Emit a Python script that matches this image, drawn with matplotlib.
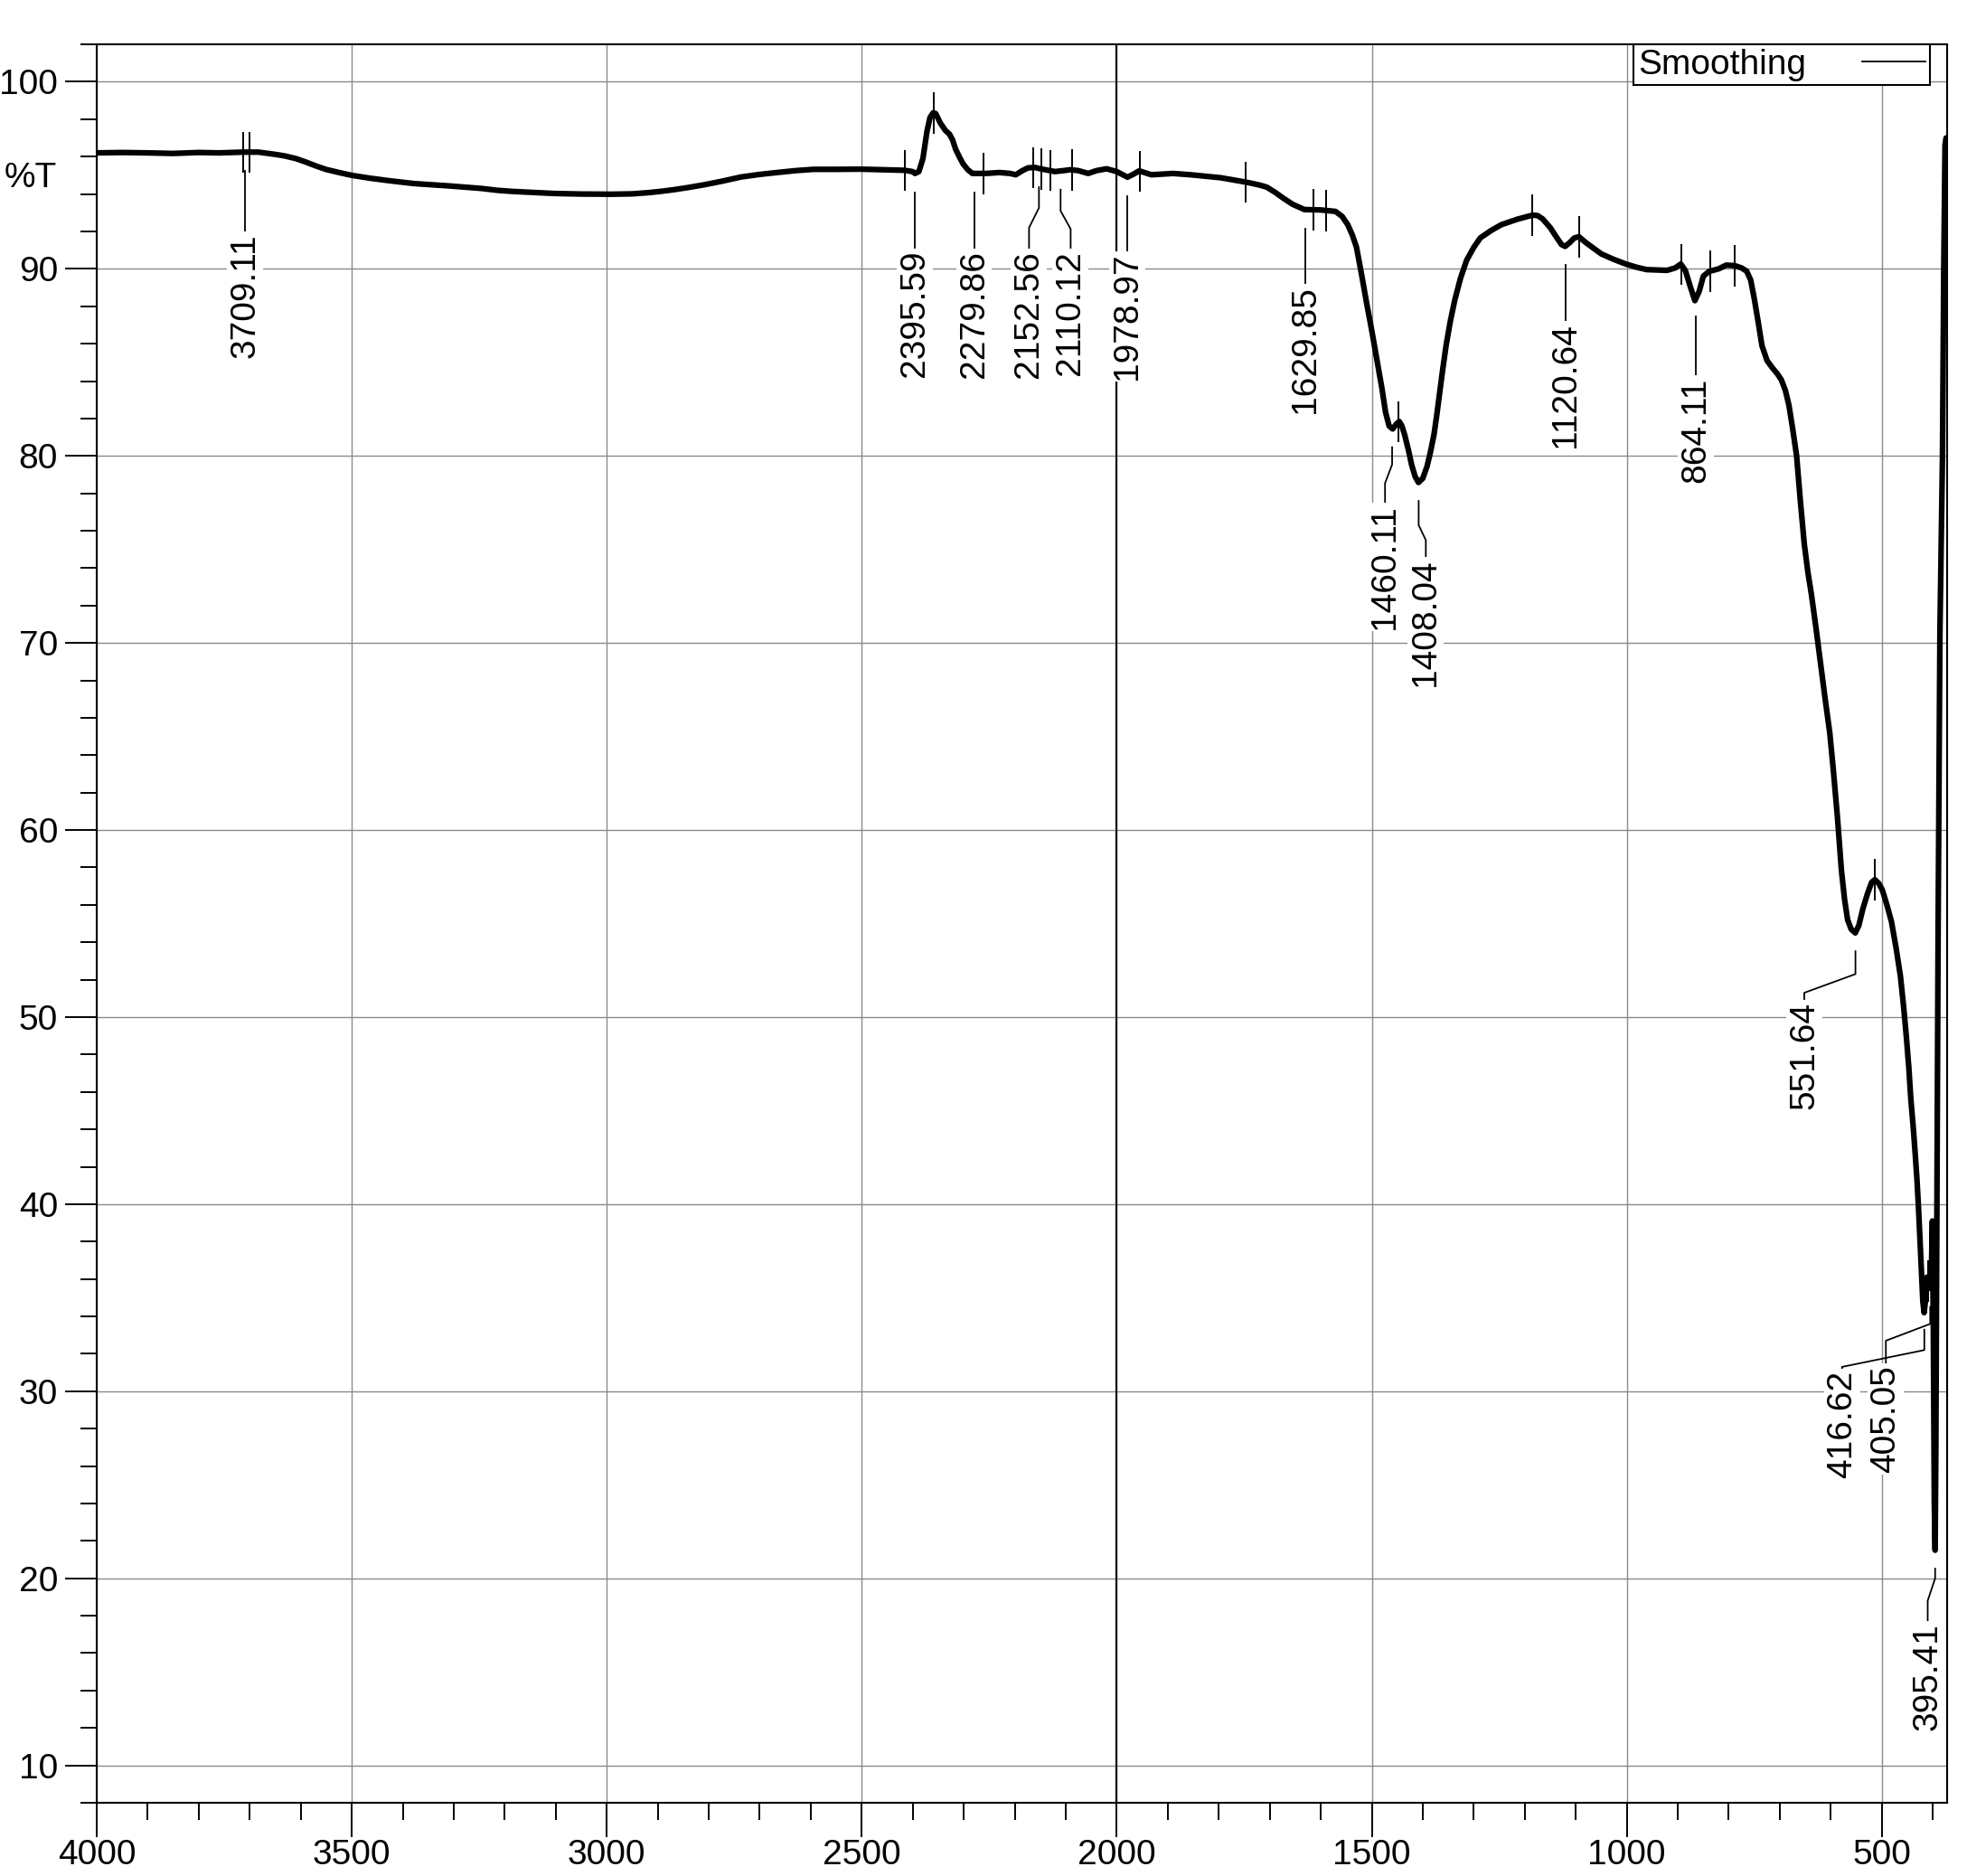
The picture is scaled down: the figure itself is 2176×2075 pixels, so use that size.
import matplotlib
matplotlib.use("Agg")
import matplotlib.pyplot as plt
from matplotlib.lines import Line2D
from matplotlib.ticker import MultipleLocator
import numpy as np

plt.rcParams["font.family"] = ["Liberation Sans", "DejaVu Sans"]

# FTIR spectrum (wavenumber in cm-1, %T)
wavenumber = [
    4000, 3950, 3900, 3850, 3800, 3760, 3713, 3683, 3650, 3632, 3610, 3591,
    3570, 3551, 3525, 3500, 3465, 3429, 3378, 3307, 3246, 3215, 3185, 3140,
    3103, 3050, 2991, 2950, 2920, 2895, 2869, 2840, 2808, 2775, 2737, 2700,
    2666, 2630, 2595, 2550, 2503, 2460, 2417, 2400, 2395.6, 2388, 2380, 2372,
    2366, 2360, 2355, 2346, 2336, 2328, 2322, 2316, 2308, 2301, 2292, 2283,
    2257, 2230, 2209, 2198, 2185, 2174, 2160, 2150, 2121, 2105, 2091, 2075,
    2056, 2040, 2020, 2000, 1979, 1968, 1956, 1932, 1890, 1855, 1796, 1760,
    1740, 1720, 1706, 1690, 1673, 1655, 1632, 1600, 1571, 1558, 1547, 1538,
    1530, 1520, 1510, 1500, 1490, 1480, 1473, 1466, 1459, 1452, 1446, 1441,
    1435.6, 1428, 1422, 1415, 1408.5, 1400, 1391.6, 1385, 1378, 1373, 1368,
    1361, 1354, 1346, 1337, 1326, 1314, 1300, 1287, 1266, 1246, 1215, 1185,
    1175, 1165, 1150, 1138, 1128, 1121, 1112, 1103, 1094, 1080, 1065, 1050,
    1025, 1002, 980, 961, 921, 905, 894, 885, 876, 866.5, 858, 850, 839, 820,
    805, 788, 775, 765, 757, 750, 742, 735, 725, 714, 705, 697, 689, 682, 675,
    667, 660, 652, 645, 638, 629, 620, 611, 602, 595, 587, 579, 573, 567, 560,
    552, 545, 537, 528, 520, 513.6, 506, 499, 490, 481, 472, 463.5, 457, 452,
    447, 443, 438, 434, 431, 428, 425, 422.4, 419.5, 417, 414.5, 411.5, 408,
    405, 402.5, 400.8, 399, 397, 395.4, 394, 392, 389.5, 386, 381, 378.5, 376,
    374,
]
transmittance = [
    96.20, 96.22, 96.20, 96.17, 96.22, 96.20, 96.24, 96.24, 96.12, 96.04, 95.90, 95.72,
    95.50, 95.32, 95.15, 95.00, 94.85, 94.72, 94.56, 94.43, 94.30, 94.20, 94.14, 94.08,
    94.03, 94.00, 93.99, 94.01, 94.07, 94.14, 94.23, 94.35, 94.50, 94.68, 94.91, 95.05,
    95.15, 95.25, 95.32, 95.32, 95.33, 95.30, 95.27, 95.20, 95.10, 95.20, 95.90, 97.37,
    98.10, 98.34, 98.30, 97.80, 97.40, 97.20, 96.90, 96.40, 95.95, 95.60, 95.30, 95.10,
    95.10, 95.15, 95.10, 95.03, 95.25, 95.40, 95.42, 95.35, 95.20, 95.25, 95.30, 95.25,
    95.10, 95.25, 95.35, 95.20, 94.90, 95.05, 95.24, 95.03, 95.10, 95.03, 94.87, 94.70,
    94.60, 94.48, 94.37, 94.10, 93.77, 93.45, 93.17, 93.15, 93.07, 92.80, 92.36, 91.80,
    91.16, 89.70, 88.16, 86.70, 85.15, 83.60, 82.34, 81.60, 81.44, 81.70, 81.84, 81.60,
    81.14, 80.30, 79.54, 78.90, 78.58, 78.80, 79.44, 80.20, 81.14, 82.10, 83.15,
    84.60, 85.95, 87.20, 88.36, 89.50, 90.46, 91.15, 91.66, 92.05, 92.36, 92.65, 92.87,
    92.85, 92.67, 92.20, 91.70, 91.30, 91.20, 91.40, 91.65, 91.72, 91.40, 91.10, 90.80,
    90.50, 90.26, 90.08, 89.96, 89.92, 90.05, 90.26, 89.90, 89.10, 88.30, 88.80, 89.60, 89.86, 90.00,
    90.20, 90.17, 90.05, 89.88, 89.40, 88.40, 87.10, 85.90, 85.10, 84.69, 84.40, 84.07, 83.50, 82.70, 81.50,
    80.00, 77.70, 75.30, 73.80, 72.60, 70.80, 68.90, 67.00, 65.20, 63.20, 60.70, 57.80, 56.30, 55.20, 54.70,
    54.50, 54.90, 55.80, 56.60, 57.20, 57.35, 57.15, 56.80, 56.00, 55.10, 53.70, 52.20, 50.50, 49.00,
    47.30, 45.60, 44.00, 42.50, 41.30, 39.80, 38.00, 36.40, 34.80, 34.20, 34.80, 36.10, 35.80,
    35.50, 36.80, 39.10, 33.50, 24.00, 21.50, 27.00, 40.00, 55.00, 70.60, 80.00, 90.00, 96.60,
    97.00,
]

# picked peaks
peak_labels = [
    "3709.11", "2395.59", "2279.86", "2152.56", "2110.12", "1978.97", "1629.85",
    "1460.11", "1408.04", "1120.64", "864.11", "551.64", "416.62", "405.05", "395.41",
]
peak_positions = [
    3709.11, 2395.59, 2279.86, 2152.56, 2110.12, 1978.97, 1629.85,
    1460.11, 1408.04, 1120.64, 864.11, 551.64, 416.62, 405.05, 395.41,
]

# label placement: text x, text top, and the two knees of bent leaders
label_x = [
    3709.11, 2395.59, 2279.86, 2172.0, 2090.4, 1978.97, 1629.85,
    1474.0, 1394.0, 1120.64, 864.11, 652.0, 578.0, 492.0, 410.0,
]
label_top = [91.9, 91.0, 91.0, 91.0, 91.0, 90.85, 89.1, 77.4, 74.5, 87.1, 84.2, 50.8, 31.1, 31.4, 17.6]
knee_hi = [None, None, None, 93.26, 93.1, None, None, 79.54, 76.3, None, None, 52.3, 32.2, 33.6, 20.0]
knee_lo = [None, None, None, 92.2, 92.13, None, None, 78.54, 75.5, None, None, 51.3, 31.3, 32.7, 18.8]

# short vertical marks drawn across the curve by the peak picker
mark_positions = [
    3713.6, 3700.4, 2415.2, 2358.5, 2261.0, 2164.2, 2147.7, 2131.0, 2086.8,
    1953.9, 1747.0, 1614.0, 1590.0, 1447.0, 1186.0, 1093.5, 893.6, 836.0,
    788.6, 513.6, 409.0,
]

x_ticks = [4000, 3500, 3000, 2500, 2000, 1500, 1000, 500]
y_ticks = [10, 20, 30, 40, 50, 60, 70, 80, 90, 100]

FS = 28

fig = plt.figure(figsize=(21.76, 20.75), dpi=100)
ax = fig.add_axes([0.04917, 0.03904, 0.9407, 0.9373])

ax.plot(wavenumber, transmittance, color="black", lw=4.5, solid_joinstyle="round",
        solid_capstyle="round", zorder=3)

wn_asc = np.array(wavenumber[::-1])
tr_asc = np.array(transmittance[::-1])

for mx in mark_positions:
    my = np.interp(mx, wn_asc, tr_asc)
    ax.plot([mx, mx], [my - 1.05, my + 1.05], color="black", lw=1.4, zorder=4)

for text, px, lx, top, kh, kl in zip(peak_labels, peak_positions, label_x,
                                     label_top, knee_hi, knee_lo):
    start = np.interp(px, wn_asc, tr_asc) - 1.0
    if kh is None:
        xs, ys = [px, px], [start, top + 0.1]
    else:
        xs, ys = [px, px, lx, lx], [start, kh, kl, top + 0.1]
    ax.plot(xs, ys, color="black", lw=1.3, zorder=4)
    ax.text(lx, top, text, rotation=90, ha="center", va="top", fontsize=FS,
            zorder=5, bbox=dict(facecolor="white", edgecolor="none", pad=1.5))

ax.set_xlim(4000, 372)
ax.set_ylim(8, 102)
ax.set_xticks(x_ticks)
ax.set_yticks(y_ticks)
ax.xaxis.set_minor_locator(MultipleLocator(100))
ax.yaxis.set_minor_locator(MultipleLocator(2))
ax.tick_params(axis="x", which="major", direction="out", length=27, width=1.4,
               pad=2, labelsize=FS)
ax.tick_params(axis="x", which="minor", direction="out", length=14, width=1.4)
ax.tick_params(axis="y", which="major", direction="out", length=25, width=1.4,
               pad=6, labelsize=FS)
ax.tick_params(axis="y", which="minor", direction="out", length=13, width=1.4)

ax.grid(True, which="major", color="#8a8a8a", lw=1.0, zorder=0)
ax.axvline(2000, color="black", lw=1.5, zorder=1.5)
ax.set_axisbelow(True)
for sp in ax.spines.values():
    sp.set_linewidth(1.5)

ax.set_ylabel("%T", rotation=0, fontsize=FS, ha="center", va="center")
ax.yaxis.set_label_coords(-0.0357, 0.924)

proxy = Line2D([], [], color="black", lw=1.3)
leg = ax.legend([proxy], ["Smoothing"], loc="upper right",
                bbox_to_anchor=(0.9907, 1.0), borderaxespad=0, borderpad=0.12,
                handlelength=1.8, handletextpad=1.6, markerfirst=False,
                fancybox=False, framealpha=1, edgecolor="black", fontsize=FS)
leg.get_frame().set_linewidth(1.5)
leg.set_zorder(6)

fig.savefig("out.png", dpi=100)
